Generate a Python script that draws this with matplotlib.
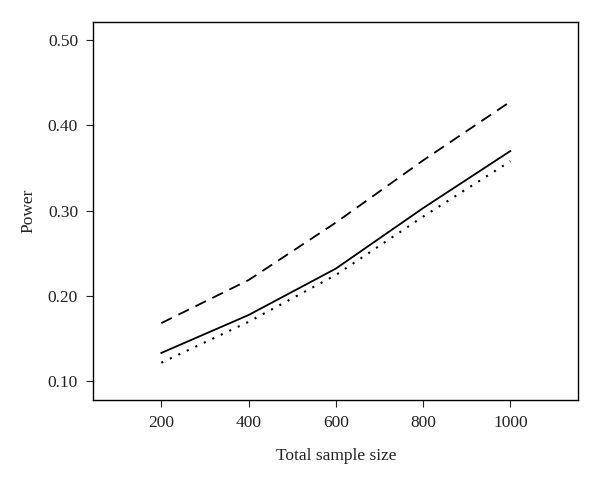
import matplotlib
matplotlib.use("Agg")
import matplotlib.pyplot as plt

sample_size = [200, 400, 600, 800, 1000]
power_solid = [0.133, 0.1775, 0.232, 0.303, 0.370]
power_dashed = [0.168, 0.2185, 0.286, 0.359, 0.428]
power_dotted = [0.1215, 0.1695, 0.2245, 0.293, 0.358]

x_ticks = [200, 400, 600, 800, 1000]
y_ticks = [0.10, 0.20, 0.30, 0.40, 0.50]

plt.rcParams['font.family'] = ['Liberation Serif', 'DejaVu Serif']

fig = plt.figure(figsize=(6, 4.87), dpi=100)
ax = fig.add_axes([0.1555, 0.1786, 0.8085, 0.7768])

ax.plot(sample_size, power_solid, color='black', lw=1.3)
ax.plot(sample_size, power_dashed, color='black', lw=1.3, linestyle=(0, (6.5, 4)))
ax.plot(sample_size, power_dotted, color='black', lw=1.5, linestyle=(0, (1, 3.5)))

ax.set_xlim(44, 1156)
ax.set_ylim(0.0777, 0.5218)
ax.set_xticks(x_ticks)
ax.set_yticks(y_ticks)
ax.set_yticklabels(['%.2f' % v for v in y_ticks])
ax.tick_params(labelsize=12.5, length=5, width=0.8, colors='#222222', pad=6)
for s in ax.spines.values():
    s.set_linewidth(1.0)

ax.set_xlabel('Total sample size', fontsize=12.5, labelpad=12, color='#222222')
ax.set_ylabel('Power', fontsize=12.5, labelpad=8, color='#222222')

fig.savefig('out.png', dpi=100)
